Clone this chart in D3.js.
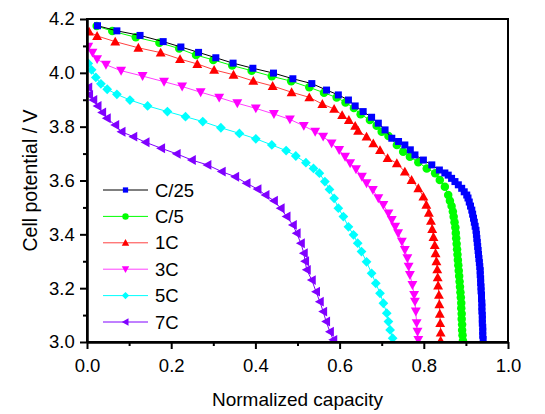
<!DOCTYPE html>
<html><head><meta charset="utf-8">
<script src="https://cdn.jsdelivr.net/npm/d3@7"></script>
<style>body{margin:0;background:#fff}svg{display:block}text{font-family:"Liberation Sans",Arial,sans-serif}</style>
</head><body><div id="chart"></div>
<script>
const seriesNames = ["C/25","C/5","1C","3C","5C","7C"];
const seriesColors = ["#0000ff","#00ff00","#ff0000","#ff00ff","#00ffff","#8000ff"];
const lineColors = ["#000000","#00ff00","#ff4040","#ff40ff","#00ffff","#8000ff"];
const markerTypes = ["square","circle","triangleUp","triangleDown","diamond","triangleLeft"];
const xTicks = [0.0,0.2,0.4,0.6,0.8,1.0];
const yTicks = [3.0,3.2,3.4,3.6,3.8,4.0,4.2];

const c25 = [[0.025,4.175],[0.071,4.156],[0.126,4.139],[0.181,4.116],[0.223,4.096],[0.265,4.076],[0.306,4.056],[0.347,4.036],[0.394,4.017],[0.443,3.999],[0.489,3.978],[0.534,3.960],[0.569,3.936],[0.597,3.918],[0.621,3.899],[0.637,3.877],[0.656,3.856],[0.676,3.835],[0.692,3.813],[0.708,3.788],[0.724,3.757],[0.740,3.745],[0.755,3.732],[0.768,3.714],[0.779,3.695],[0.799,3.676],[0.819,3.658],[0.837,3.639],[0.850,3.628],[0.858,3.620],[0.866,3.608],[0.874,3.596],[0.882,3.584],[0.890,3.571],[0.896,3.558],[0.902,3.546],[0.905,3.535],[0.908,3.520],[0.911,3.505],[0.914,3.490],[0.916,3.475],[0.918,3.460],[0.920,3.445],[0.922,3.430],[0.924,3.415],[0.925,3.400],[0.926,3.385],[0.927,3.370],[0.928,3.355],[0.929,3.340],[0.930,3.325],[0.931,3.310],[0.932,3.295],[0.933,3.280],[0.934,3.265],[0.934,3.250],[0.935,3.235],[0.935,3.220],[0.936,3.205],[0.936,3.190],[0.937,3.175],[0.937,3.160],[0.938,3.145],[0.938,3.130],[0.938,3.115],[0.939,3.100],[0.939,3.085],[0.939,3.070],[0.940,3.055],[0.940,3.040],[0.940,3.025],[0.941,3.010]];
const c5 = [[0.023,4.174],[0.060,4.155],[0.116,4.132],[0.172,4.112],[0.219,4.090],[0.259,4.066],[0.300,4.048],[0.345,4.027],[0.391,4.008],[0.439,3.987],[0.485,3.969],[0.528,3.946],[0.563,3.926],[0.593,3.908],[0.614,3.890],[0.634,3.869],[0.650,3.846],[0.672,3.825],[0.688,3.803],[0.700,3.781],[0.716,3.765],[0.736,3.732],[0.751,3.707],[0.767,3.688],[0.787,3.668],[0.807,3.645],[0.827,3.627],[0.838,3.602],[0.850,3.577],[0.858,3.546],[0.862,3.525],[0.866,3.505],[0.869,3.485],[0.871,3.465],[0.873,3.445],[0.875,3.425],[0.876,3.405],[0.877,3.385],[0.878,3.365],[0.879,3.345],[0.880,3.325],[0.881,3.305],[0.882,3.285],[0.883,3.265],[0.884,3.245],[0.885,3.225],[0.886,3.205],[0.887,3.185],[0.888,3.165],[0.889,3.145],[0.889,3.125],[0.890,3.105],[0.890,3.085],[0.891,3.065],[0.891,3.045],[0.892,3.025],[0.893,3.005]];
const c1 = [[0.005,4.153],[0.024,4.137],[0.067,4.116],[0.122,4.093],[0.175,4.075],[0.221,4.051],[0.262,4.033],[0.302,4.011],[0.348,3.993],[0.395,3.970],[0.441,3.951],[0.486,3.928],[0.528,3.909],[0.559,3.884],[0.587,3.866],[0.606,3.843],[0.622,3.825],[0.637,3.803],[0.644,3.785],[0.664,3.763],[0.680,3.738],[0.696,3.713],[0.714,3.683],[0.736,3.664],[0.755,3.633],[0.771,3.602],[0.787,3.571],[0.799,3.540],[0.806,3.510],[0.812,3.480],[0.817,3.450],[0.820,3.420],[0.823,3.390],[0.826,3.360],[0.828,3.330],[0.830,3.300],[0.832,3.270],[0.833,3.240],[0.834,3.210],[0.836,3.175],[0.837,3.140],[0.838,3.105],[0.839,3.070],[0.840,3.035],[0.840,3.005]];
const c3 = [[0.003,4.097],[0.013,4.075],[0.024,4.051],[0.045,4.030],[0.081,4.008],[0.132,3.988],[0.183,3.967],[0.226,3.949],[0.270,3.928],[0.314,3.908],[0.357,3.887],[0.401,3.868],[0.444,3.847],[0.482,3.827],[0.515,3.803],[0.542,3.781],[0.561,3.763],[0.581,3.738],[0.599,3.713],[0.613,3.688],[0.625,3.664],[0.639,3.642],[0.653,3.614],[0.664,3.590],[0.679,3.565],[0.692,3.534],[0.704,3.509],[0.716,3.478],[0.724,3.453],[0.732,3.428],[0.739,3.404],[0.748,3.373],[0.755,3.342],[0.761,3.311],[0.764,3.280],[0.767,3.249],[0.773,3.212],[0.777,3.175],[0.779,3.150],[0.781,3.113],[0.783,3.070],[0.785,3.038],[0.787,3.008]];
const c5c = [[0.003,4.035],[0.011,4.011],[0.021,3.983],[0.033,3.959],[0.048,3.939],[0.071,3.920],[0.102,3.899],[0.144,3.877],[0.191,3.856],[0.234,3.837],[0.275,3.819],[0.318,3.796],[0.362,3.775],[0.401,3.755],[0.439,3.732],[0.473,3.711],[0.496,3.691],[0.520,3.666],[0.538,3.645],[0.552,3.627],[0.565,3.596],[0.576,3.567],[0.587,3.534],[0.597,3.497],[0.609,3.466],[0.621,3.428],[0.633,3.398],[0.643,3.367],[0.652,3.336],[0.664,3.298],[0.676,3.255],[0.686,3.218],[0.696,3.181],[0.704,3.144],[0.712,3.107],[0.716,3.076],[0.720,3.045],[0.726,3.014]];
const c7 = [[0.003,3.946],[0.005,3.918],[0.015,3.899],[0.025,3.877],[0.036,3.853],[0.047,3.831],[0.067,3.806],[0.082,3.781],[0.110,3.763],[0.139,3.742],[0.176,3.720],[0.213,3.699],[0.249,3.676],[0.286,3.658],[0.320,3.633],[0.352,3.614],[0.379,3.590],[0.405,3.568],[0.424,3.546],[0.444,3.525],[0.460,3.497],[0.474,3.466],[0.489,3.435],[0.498,3.404],[0.508,3.367],[0.515,3.330],[0.518,3.300],[0.522,3.268],[0.534,3.230],[0.544,3.187],[0.553,3.150],[0.561,3.113],[0.568,3.076],[0.577,3.038],[0.585,3.008]];
const seriesData = [c25,c5,c1,c3,c5c,c7];

const W=545,H=414, m={l:87,r:37,t:19,b:72};
const svg=d3.select("#chart").append("svg").attr("width",W).attr("height",H);
const x=d3.scaleLinear().domain([0,1]).range([m.l,W-m.r]);
const y=d3.scaleLinear().domain([3.0,4.2]).range([H-m.b,m.t]);

const plot=svg.append("g");
svg.append("clipPath").attr("id","cp").append("rect")
  .attr("x",m.l).attr("y",m.t-6).attr("width",W-m.l-m.r+6).attr("height",H-m.t-m.b+6);

function symbolPath(type,size){
  const s=size;
  switch(type){
    case "square": return d3.symbol(d3.symbolSquare, s*s)();
    case "circle": return d3.symbol(d3.symbolCircle, Math.PI*(s/2)*(s/2))();
    case "diamond": { const a=s/2*1.15; return `M0,${-a}L${a},0L0,${a}L${-a},0Z`; }
    case "triangleUp": { const a=s/2*1.1; return `M0,${-a}L${a},${a*0.8}L${-a},${a*0.8}Z`; }
    case "triangleDown": { const a=s/2*1.1; return `M0,${a}L${a},${-a*0.8}L${-a},${-a*0.8}Z`; }
    case "triangleLeft": { const a=s/2*1.1; return `M${-a},0L${a*0.8},${-a}L${a*0.8},${a}Z`; }
  }
}
const mSize=[7,8.5,9,9,8.5,9];

const line=d3.line().x(d=>x(d[0])).y(d=>y(d[1]));
const g=plot.append("g").attr("clip-path","url(#cp)");
for(let i=seriesData.length-1;i>=0;i--){
  const sg=g.append("g");
  sg.append("path").datum(seriesData[i]).attr("d",line).attr("fill","none")
    .attr("stroke",lineColors[i]).attr("stroke-width",1);
  sg.selectAll("path.mk").data(seriesData[i]).join("path").attr("class","mk")
    .attr("d",symbolPath(markerTypes[i],mSize[i]))
    .attr("transform",d=>`translate(${x(d[0])},${y(d[1])})`)
    .attr("fill",seriesColors[i]);
}

svg.append("rect").attr("x",m.l).attr("y",m.t).attr("width",W-m.l-m.r).attr("height",H-m.t-m.b)
  .attr("fill","none").attr("stroke","#000").attr("stroke-width",2);

const xAxis=svg.append("g").attr("transform",`translate(0,${H-m.b})`)
  .call(d3.axisBottom(x).tickValues(xTicks).tickFormat(d3.format(".1f")).tickSize(7).tickSizeOuter(0));
const xMinor=svg.append("g").attr("transform",`translate(0,${H-m.b})`)
  .call(d3.axisBottom(x).tickValues(d3.range(0.1,1,0.2)).tickFormat("").tickSize(4).tickSizeOuter(0));
const yAxis=svg.append("g").attr("transform",`translate(${m.l},0)`)
  .call(d3.axisLeft(y).tickValues(yTicks).tickFormat(d3.format(".1f")).tickSize(7).tickSizeOuter(0));
const yMinor=svg.append("g").attr("transform",`translate(${m.l},0)`)
  .call(d3.axisLeft(y).tickValues(d3.range(3.1,4.2,0.2)).tickFormat("").tickSize(4).tickSizeOuter(0));
[xAxis,xMinor,yAxis,yMinor].forEach(a=>{
  a.select(".domain").attr("stroke","#000").attr("stroke-width",2);
  a.selectAll(".tick line").attr("stroke","#000").attr("stroke-width",2);
  a.selectAll("text").attr("font-size",18.5).attr("fill","#000").attr("font-family","Liberation Sans, Arial, sans-serif");
});
xAxis.selectAll("text").attr("dy","1.1em");
yAxis.selectAll("text").attr("dx","-0.12em");

svg.append("text").attr("x",(m.l+W-m.r)/2).attr("y",406).attr("text-anchor","middle")
  .attr("font-size",19).text("Normalized capacity");
svg.append("text").attr("transform",`translate(37,${(m.t+H-m.b)/2}) rotate(-90)`).attr("text-anchor","middle")
  .attr("font-size",19.5).text("Cell potential / V");

const lg=svg.append("g");
seriesNames.forEach((n,i)=>{
  const ly=190+i*26.4;
  lg.append("line").attr("x1",103).attr("x2",148).attr("y1",ly).attr("y2",ly)
    .attr("stroke",lineColors[i]).attr("stroke-width",1);
  lg.append("path").attr("d",symbolPath(markerTypes[i],mSize[i]*0.75))
    .attr("transform",`translate(125.5,${ly})`).attr("fill",seriesColors[i]);
  lg.append("text").attr("x",155).attr("y",ly).attr("dy","0.36em").attr("font-size",18.5).text(n);
});
</script></body></html>
